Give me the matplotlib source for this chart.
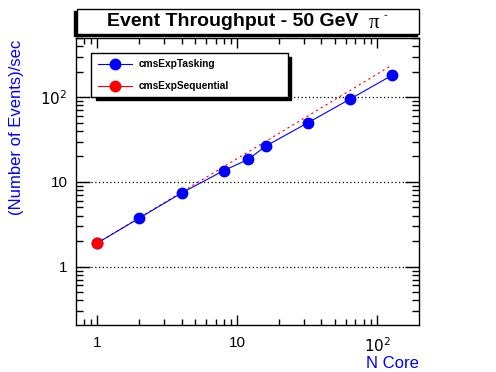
import matplotlib
matplotlib.use("Agg")
import matplotlib.pyplot as plt
from matplotlib.patches import Rectangle
from matplotlib.lines import Line2D
from matplotlib.ticker import LogLocator, FixedLocator, NullFormatter

plt.rcParams['font.family'] = ['Liberation Sans', 'DejaVu Sans']

# data
ncore = [1, 2, 4, 8, 12, 16, 32, 64, 128]
tasking = [1.9, 3.75, 7.4, 13.6, 18.5, 26.5, 50, 95, 182]
seq_ncore = [1]
sequential = [1.9]
ideal_ncore = [1, 128]
ideal = [1.9, 240]

ytick_vals = [1, 10, 100]
ytick_labels = ['1', '10', r'$10^{2}$']
xtick_vals = [1, 10, 100]
xtick_labels = ['1', '10', r'$10^{2}$']

W, H = 496, 372
fig = plt.figure(figsize=(W / 100, H / 100), dpi=100)
ax = fig.add_axes([76 / W, 1 - 325 / H, (419 - 76) / W, (325 - 38) / H])

ax.plot(ideal_ncore, ideal, color='red', lw=0.8, ls=(0, (2, 3)), zorder=2)
ax.plot(ncore, tasking, color='blue', lw=0.8, marker='o', ms=7.5, mec='blue', zorder=3)
ax.plot(seq_ncore, sequential, color='red', lw=0.8, marker='o', ms=7.5, mec='red', zorder=4)

ax.set_xscale('log')
ax.set_yscale('log')
ax.set_xlim(0.705, 199)
ax.set_ylim(0.205, 500)

ax.xaxis.set_major_locator(FixedLocator(xtick_vals))
ax.set_xticklabels(xtick_labels)
ax.yaxis.set_major_locator(FixedLocator(ytick_vals))
ax.set_yticklabels(ytick_labels)
ax.xaxis.set_minor_locator(LogLocator(base=10, subs=range(2, 10), numticks=20))
ax.yaxis.set_minor_locator(LogLocator(base=10, subs=range(2, 10), numticks=20))
ax.xaxis.set_minor_formatter(NullFormatter())
ax.yaxis.set_minor_formatter(NullFormatter())
ax.tick_params(which='both', direction='in', top=True, right=True, width=1, labelsize=11)
ax.tick_params(axis='x', which='major', length=7, pad=8)
ax.tick_params(axis='x', which='minor', length=4)
ax.tick_params(axis='y', which='major', length=10, pad=6)
ax.tick_params(axis='y', which='minor', length=5)
for s in ax.spines.values():
    s.set_linewidth(1)

ax.grid(axis='y', which='major', color='black', ls=(0, (1, 2)), lw=0.9)
ax.set_axisbelow(False)

ax.set_xlabel('N Core', color='blue', fontsize=12, loc='right', labelpad=1)
fig.text(17 / W, 1 - 40 / H, '(Number of Events)/sec', color='blue', fontsize=12,
         rotation=90, ha='center', va='top')

# title box with shadow
fig.patches.append(Rectangle((74 / W, 1 - 36 / H), (417 - 74) / W, (36 - 11) / H,
                             transform=fig.transFigure, color='black', zorder=1))
fig.patches.append(Rectangle((77 / W, 1 - 34 / H), (419 - 77) / W, (34 - 9) / H,
                             transform=fig.transFigure, facecolor='white', edgecolor='black',
                             lw=1, zorder=2))
fig.text(107 / W, 1 - 21.5 / H, 'Event Throughput - 50 GeV', fontsize=14,
         fontweight='bold', ha='left', va='center', zorder=3)
fig.text(369 / W, 1 - 23 / H, '\u03c0', fontsize=15, family='Liberation Serif',
         ha='left', va='center', zorder=3)
fig.text(383 / W, 1 - 15 / H, '-', fontsize=8, ha='left', va='center', zorder=3)

# legend box with shadow
fig.patches.append(Rectangle((96 / W, 1 - 100 / H), (291 - 96) / W, (100 - 57) / H,
                             transform=fig.transFigure, color='black', zorder=5))
fig.patches.append(Rectangle((91 / W, 1 - 97 / H), (288 - 91) / W, (97 - 53) / H,
                             transform=fig.transFigure, facecolor='white', edgecolor='black',
                             lw=1, zorder=6))
for yy, col, name in [(64, 'blue', 'cmsExpTasking'), (86, 'red', 'cmsExpSequential')]:
    fig.lines.append(Line2D([98 / W, 132 / W], [1 - yy / H] * 2, transform=fig.transFigure,
                            color=col, lw=0.8, zorder=7))
    fig.lines.append(Line2D([115 / W], [1 - yy / H], transform=fig.transFigure,
                            color=col, marker='o', ms=7.5, ls='none', zorder=8))
    fig.text(139 / W, 1 - yy / H, name, fontsize=7.3, fontweight='bold',
             ha='left', va='center', zorder=8)

fig.savefig('out.png', dpi=100)
